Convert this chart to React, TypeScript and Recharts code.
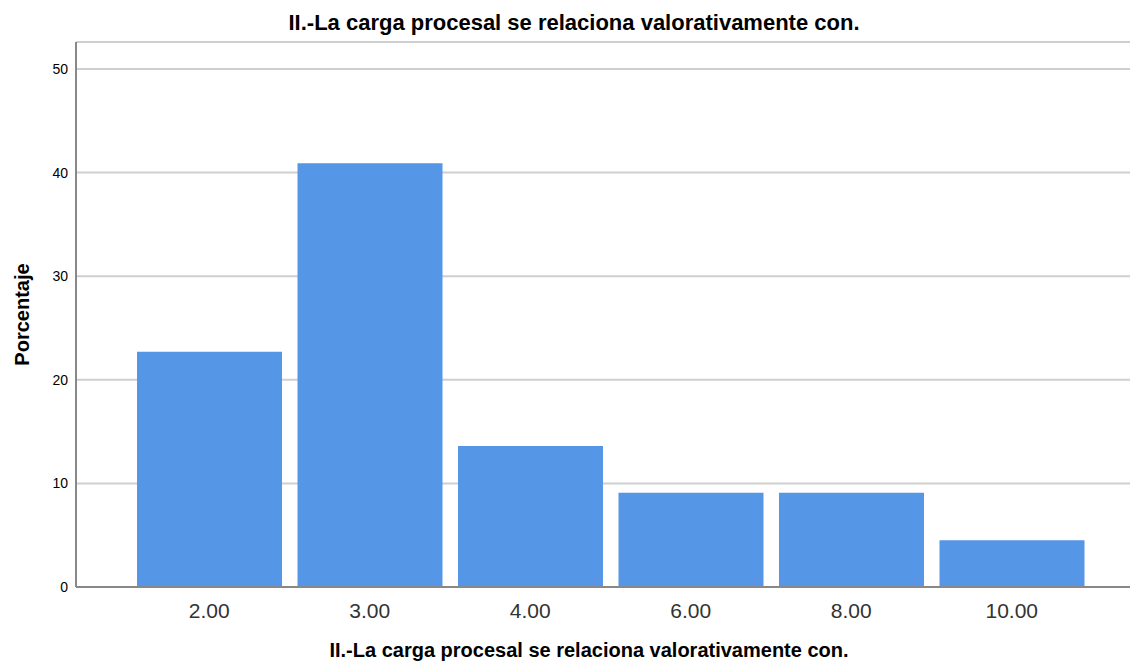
import React from 'react'
import { BarChart, Bar, XAxis, YAxis, CartesianGrid, Label } from 'recharts'

const categories = ['2.00', '3.00', '4.00', '6.00', '8.00', '10.00']
const percentages = [22.7, 40.9, 13.6, 9.1, 9.1, 4.5]
const yTicks = [0, 10, 20, 30, 40, 50]

const title = 'II.-La carga procesal se relaciona valorativamente con.'

const data = categories.map((c, i) => ({ name: c, value: percentages[i] }))

const font = '"Liberation Sans", Arial, sans-serif'

export default function App() {
	return (
		<div style={{ position: 'absolute', left: 0, top: 0, width: 1132, height: 664, fontFamily: font, overflow: 'hidden' }}>
			<div
				style={{
					position: 'absolute',
					top: 12,
					left: 574 - 600,
					width: 1200,
					textAlign: 'center',
					fontWeight: 'bold',
					fontSize: 22,
					lineHeight: '22px',
					color: '#000',
					whiteSpace: 'nowrap',
				}}
			>
				{title}
			</div>
			<BarChart
				width={1132}
				height={664}
				data={data}
				margin={{ top: 42, right: 2, left: 16, bottom: 37 }}
				barCategoryGap={8}
			>
				<CartesianGrid vertical={false} stroke='#cfcfcf' strokeWidth={2} />
				<XAxis
					dataKey='name'
					padding={{ left: 53, right: 38 }}
					tickLine={false}
					axisLine={{ stroke: '#888', strokeWidth: 2 }}
					tick={{ fill: '#333', fontSize: 21, fontFamily: font }}
					tickMargin={10}
					height={40}
				/>
				<YAxis
					domain={[0, 52.6]}
					ticks={yTicks}
					width={60}
					tickLine={false}
					axisLine={{ stroke: '#888', strokeWidth: 2 }}
					tick={{ fill: '#000', fontSize: 14, fontFamily: font }}
					tickMargin={2}
					allowDataOverflow
				>
					<Label
						value='Porcentaje'
						angle={-90}
						position='insideLeft'
						offset={6}
						style={{ fontWeight: 'bold', fontSize: 20, fill: '#000', fontFamily: font, textAnchor: 'middle' }}
					/>
				</YAxis>
				<Bar dataKey='value' fill='#5596e6' isAnimationActive={false} />
			</BarChart>
			<div
				style={{
					position: 'absolute',
					top: 640,
					left: 589 - 600,
					width: 1200,
					textAlign: 'center',
					fontWeight: 'bold',
					fontSize: 20,
					lineHeight: '20px',
					color: '#000',
					whiteSpace: 'nowrap',
				}}
			>
				{title}
			</div>
		</div>
	)
}
